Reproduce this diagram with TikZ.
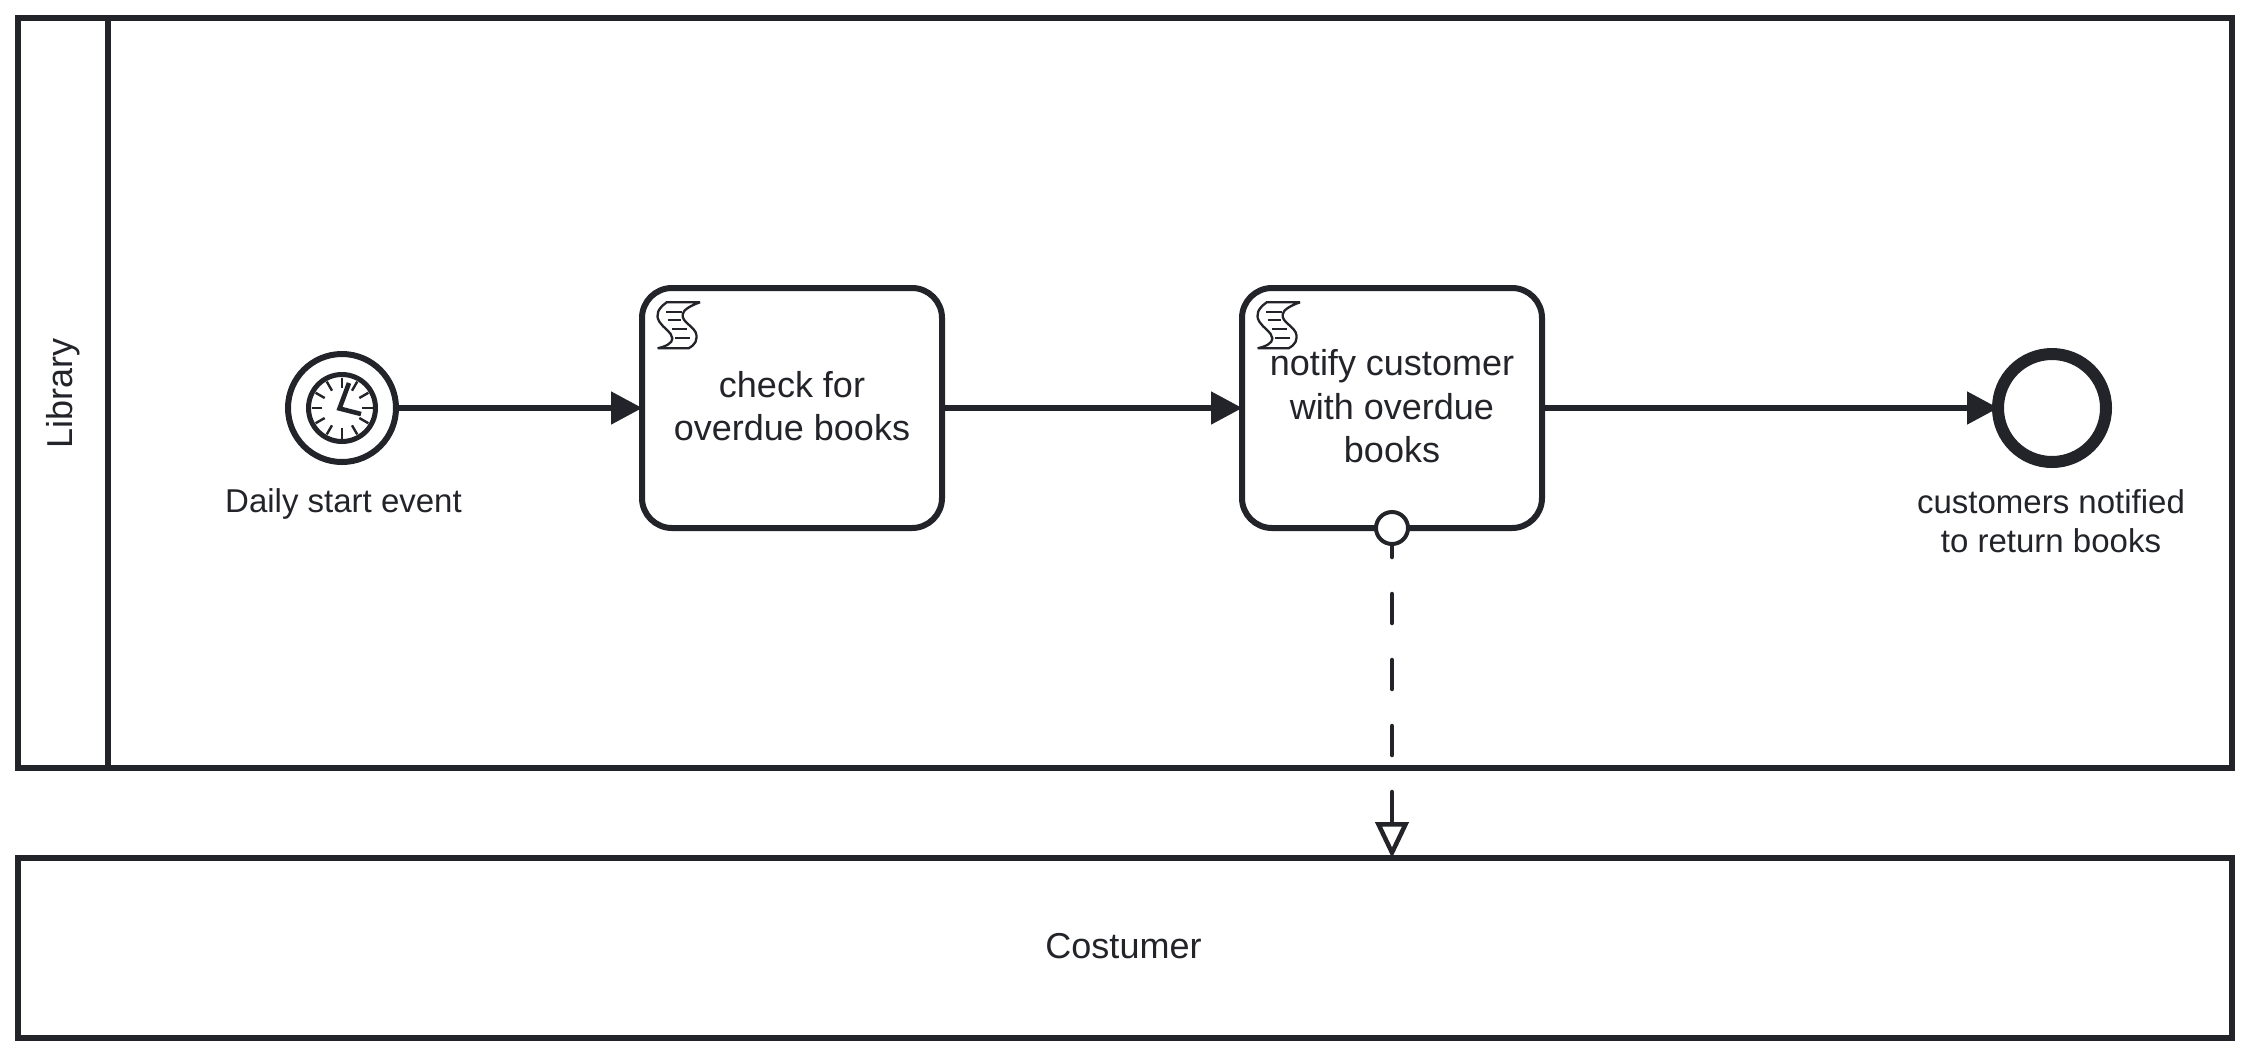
\documentclass[tikz,border=0pt]{standalone}
\usepackage{fontspec}
\setmainfont{Liberation Sans}
\usetikzlibrary{arrows.meta}
\pgfdeclarelayer{conn}
\pgfsetlayers{conn,main}
\definecolor{ink}{HTML}{22242A}
\newcommand{\lifttext}[1]{\rule[-#1]{0pt}{#1}}
\newcommand{\scripticon}[1]{%
  \begin{scope}[shift={(#1.north west)},x=0.16667pt,y=-0.16667pt,shift={(-36,-39)},draw=ink,line width=1.15pt,line join=miter,miter limit=2.5]
    \draw (110,82) .. controls (85,100) and (75,118) .. (88,140)
      .. controls (100,160) and (125,170) .. (127,190)
      .. controls (128,205) and (105,215) .. (83,220)
      -- (175,220) .. controls (195,210) and (205,195) .. (197,172)
      .. controls (185,150) and (155,140) .. (158,118)
      .. controls (160,105) and (180,92) .. (210,82) -- cycle;
    \draw (108,110) -- (155,110) (113,135) -- (153,135) (127,162) -- (170,162) (135,190) -- (180,190);
  \end{scope}}
\tikzset{
  pool/.style={draw=ink,line width=3pt,rectangle,inner sep=0pt,outer sep=0pt,text=ink,font=\fontsize{18}{21.6}\selectfont},
  taskbox/.style={draw=ink,line width=3pt,rectangle,rounded corners=15pt,minimum width=150pt,minimum height=120pt,inner sep=0pt,outer sep=0pt,fill=white,align=center,text=ink,font=\fontsize{18}{21.6}\selectfont},
  startev/.style={draw=ink,line width=3pt,circle,minimum size=54pt,inner sep=0pt,outer sep=0pt,fill=white},
  endev/.style={draw=ink,line width=6pt,circle,minimum size=54pt,inner sep=0pt,outer sep=0pt,fill=white},
  attachev/.style={draw=ink,line width=2pt,circle,minimum size=16pt,inner sep=0pt,outer sep=0pt,fill=white},
  lbl/.style={align=center,text=ink,inner sep=0pt,outer sep=0pt,font=\fontsize{16.5}{19.8}\selectfont},
  poollbl/.style={text=ink,inner sep=0pt,outer sep=0pt,font=\fontsize{18}{21.6}\selectfont},
  flow/.style={draw=ink,line width=3pt,-{Triangle[length=15.5pt,width=16.7pt,line width=0pt]}},
  msg/.style={draw=ink,line width=2.25pt,line cap=round,dash pattern=on 14.5pt off 18.5pt,
    -{Triangle[open,fill=white,length=18pt,width=16.5pt,line width=2.25pt]}},
}
\begin{document}
\begin{tikzpicture}[x=0.5pt,y=-0.5pt]
\begin{pgfonlayer}{conn}
\path[fill=white,use as bounding box] (0,0) rectangle (2250,1056);
\end{pgfonlayer}
% pools
\node[pool,minimum width=1107pt,minimum height=375pt] (library) at (1125,393) {};
\coordinate (dtop) at (108,18);
\coordinate (dbot) at (108,768);
\draw[draw=ink,line width=3pt] (dtop) -- (dbot);
\node[poollbl,rotate=90] (liblabel) at (63.5,393) {Library};
\node[pool,minimum width=1107pt,minimum height=90pt] (cost) at (1125,948) {Costumer\kern1.5pt\lifttext{2.5pt}};
% nodes
\node[startev] (start) at (342,408) {};
\node[taskbox] (t1) at (792,408) {check for\\overdue books\lifttext{2.2pt}};
\node[taskbox] (t2) at (1392,408) {notify customer\\with overdue\\books\lifttext{2pt}};
\node[endev] (end) at (2052,408) {};
\node[attachev] (attach) at (t2.south) {};
\node[lbl] (startlbl) at (343.5,504) {Daily start event};
\node[lbl] (endlbl) at (2051,521) {customers notified\\to return books};
% clock
\begin{scope}[shift={(start.center)},draw=ink]
  \draw[line width=2.5pt] (0,0) circle[radius=33.5];
  \foreach \a in {0,30,...,330}
    \draw[line width=1.2pt] ({20*cos(\a)},{20*sin(\a)}) -- ({30.5*cos(\a)},{30.5*sin(\a)});
  \draw[line width=2.3pt] (7,-25) -- (-2.5,0.5) -- (19,6);
\end{scope}
\scripticon{t1}
\scripticon{t2}
% connectors
\begin{pgfonlayer}{conn}
\draw[flow] (start) -- (t1);
\draw[flow] (t1) -- (t2);
\draw[flow] (t2) -- (end);
\draw[msg] (attach.center) -- (attach.center |- cost.north);
\end{pgfonlayer}
\end{tikzpicture}
\end{document}
